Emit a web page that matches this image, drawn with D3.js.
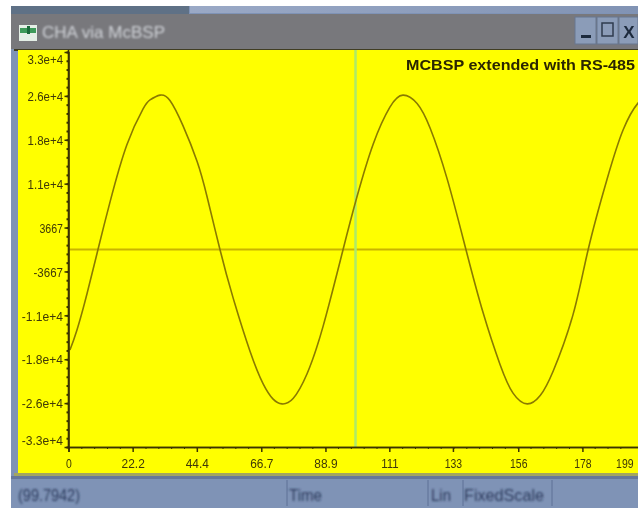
<html>
<head>
<style>
  body { margin: 0; background: #fff; }
  svg { display: block; }
  text { font-family: "Liberation Sans", Arial, sans-serif; }
</style>
</head>

<body>
<svg width="638" height="510" id="scope"></svg>
<script src="https://cdn.jsdelivr.net/npm/d3@7"></script>
<script>
// values
var times = [0.5, 2.9, 6.4, 10.2, 14.4, 20.2, 25.8, 28.2, 31.7, 35.1, 39.6, 44.5, 47.9, 52.4, 56.9, 62.8, 67.3, 70.8, 73.9, 77.7, 82.5, 88.1, 95.0, 99.8, 105.4, 111.2, 115.7, 120.6, 125.1, 131.0, 137.5, 143.4, 149.3, 153.8, 158.7, 163.2, 167.7, 174.6, 179.8, 186.3, 191.9, 197.1, 201];
var amplitude = [-16800, -13500, -7400, 0, 8000, 17500, 23500, 25000, 25800, 24900, 20700, 14700, 8900, 0, -8000, -17000, -22400, -25000, -25800, -24900, -20800, -12800, 0, 8800, 17600, 23800, 25800, 24400, 20300, 11800, 0, -10500, -19200, -24000, -25800, -24400, -20300, -10800, 0, 11700, 20000, 24500, 25800];
var xTicks = [0, 22.2, 44.4, 66.7, 88.9, 111, 133, 155.6, 177.8, 199.8];
var xLabels = ["0", "22.2", "44.4", "66.7", "88.9", "111", "133", "156", "178", "199"];
var yTicks = [33000, 25667, 18333, 11000, 3667, -3667, -11000, -18333, -25667, -33000];
var yLabels = ["3.3e+4", "2.6e+4", "1.8e+4", "1.1e+4", "3667", "-3667", "-1.1e+4", "-1.8e+4", "-2.6e+4", "-3.3e+4"];
var cursorTime = 99.3;
var statusCells = ["(99.7942)", "Time", "Lin", "FixedScale"];
var titleText = "CHA via McBSP";
var noteText = "MCBSP extended with RS-485";

var svg = d3.select("#scope");

var defs = svg.append("defs");
defs.append("filter").attr("id", "soft")
  .attr("x", "-5%").attr("y", "-5%").attr("width", "110%").attr("height", "110%")
  .append("feGaussianBlur").attr("stdDeviation", 0.6);
defs.append("filter").attr("id", "softer")
  .attr("x", "-5%").attr("y", "-20%").attr("width", "110%").attr("height", "140%")
  .append("feGaussianBlur").attr("stdDeviation", 0.85);
var topGrad = defs.append("linearGradient").attr("id", "topstrip");
topGrad.append("stop").attr("offset", "0").attr("stop-color", "#9aa9c6");
topGrad.append("stop").attr("offset", "1").attr("stop-color", "#8193b4");

var x = d3.scaleLinear().domain([0, 199.8]).range([68.5, 646]);
var y = d3.scaleLinear().domain([-33000, 33000]).range([447, 52]);

// window frame
var chrome = svg.append("g").attr("filter", "url(#soft)");
chrome.append("rect").attr("x", 11).attr("y", 6).attr("width", 627).attr("height", 502).attr("fill", "#7f93b6");
chrome.append("rect").attr("x", 11).attr("y", 6).attr("width", 178).attr("height", 8).attr("fill", "#5f7186");
chrome.append("rect").attr("x", 190).attr("y", 6).attr("width", 448).attr("height", 7).attr("fill", "url(#topstrip)");
chrome.append("rect").attr("x", 11).attr("y", 14).attr("width", 627).attr("height", 35).attr("fill", "#78787c");
chrome.append("rect").attr("x", 14).attr("y", 49).attr("width", 624).attr("height", 2).attr("fill", "#3f3d20");
chrome.append("rect").attr("x", 18).attr("y", 50).attr("width", 620).attr("height", 423).attr("fill", "#ffff00");
chrome.append("rect").attr("x", 14).attr("y", 473).attr("width", 624).attr("height", 3).attr("fill", "#a3a560");
chrome.append("rect").attr("x", 11).attr("y", 476).attr("width", 627).attr("height", 3).attr("fill", "#66779a");

// title bar icon and buttons
chrome.append("rect").attr("x", 19).attr("y", 25).attr("width", 18).attr("height", 16).attr("fill", "#e4efe6");
chrome.append("rect").attr("x", 20).attr("y", 28).attr("width", 16).attr("height", 5).attr("fill", "#3e9a5a");
chrome.append("rect").attr("x", 27).attr("y", 26).attr("width", 3).attr("height", 8).attr("fill", "#1f6b3a");

chrome.selectAll(".btn").data([575, 597, 619]).enter().append("rect")
  .attr("class", "btn")
  .attr("x", function(d) { return d; })
  .attr("y", 17)
  .attr("width", function(d, i) { return i == 2 ? 19 : 21; })
  .attr("height", 27)
  .attr("fill", "#8b9cb8")
  .attr("stroke", "#67768f");
chrome.append("rect").attr("x", 581).attr("y", 35).attr("width", 10).attr("height", 3).attr("fill", "#1d2a3c");
chrome.append("rect").attr("x", 602).attr("y", 23).attr("width", 11).attr("height", 13)
  .attr("fill", "none").attr("stroke", "#2f3b4d").attr("stroke-width", 1.5);
chrome.append("text").attr("x", 629).attr("y", 38).attr("text-anchor", "middle")
  .attr("font-size", 17).attr("font-weight", "bold").attr("fill", "#1d2a3c").text("X");

// status bar dividers
chrome.selectAll(".cell").data([287, 428, 463, 552]).enter().append("line")
  .attr("class", "cell")
  .attr("x1", function(d) { return d; })
  .attr("x2", function(d) { return d; })
  .attr("y1", 480).attr("y2", 506)
  .attr("stroke", "#5f7096");

svg.append("text").attr("x", 42).attr("y", 38)
  .attr("font-size", 16.5).attr("fill", "#d0d3d8").attr("filter", "url(#softer)")
  .attr("textLength", 123).attr("lengthAdjust", "spacingAndGlyphs").text(titleText);

// plot
var plot = svg.append("g").attr("filter", "url(#soft)");

plot.append("line")
  .attr("x1", x(0)).attr("x2", 638)
  .attr("y1", y(0)).attr("y2", y(0))
  .attr("stroke", "#c9b400").attr("stroke-width", 2);

plot.append("line")
  .attr("x1", x(cursorTime)).attr("x2", x(cursorTime))
  .attr("y1", 50).attr("y2", 447)
  .attr("stroke", "#aeea68").attr("stroke-width", 2.5);

var line = d3.line()
  .x(function(d, i) { return x(times[i]); })
  .y(function(d) { return y(d); })
  .curve(d3.curveNatural);

plot.append("path")
  .datum(amplitude)
  .attr("d", line)
  .attr("fill", "none")
  .attr("stroke", "#8a7a00")
  .attr("stroke-width", 1.6);

// minor ticks
var yMinor = d3.range(0, 46).map(function(i) { return -33000 + i * 1466.67; });
var xMinor = d3.range(0, 44).map(function(i) { return i * 4.44; });

var axisColor = "#3a3300";

function paint(g, size) {
  g.selectAll(".domain").attr("stroke", axisColor).attr("stroke-width", 1.6);
  g.selectAll(".tick line").attr("stroke", axisColor).attr("stroke-width", size);
  g.selectAll(".tick text").attr("fill", "#3f3908").attr("font-size", 13.5)
    .attr("font-family", '"Liberation Sans", Arial, sans-serif')
    .attr("lengthAdjust", "spacingAndGlyphs");
}

var yMinorAxis = plot.append("g").attr("transform", "translate(68.5,0)")
  .call(d3.axisLeft(y).tickValues(yMinor).tickSize(2).tickFormat(""));
paint(yMinorAxis, 2);

var yAxis = plot.append("g").attr("transform", "translate(68.5,0)")
  .call(d3.axisLeft(y).tickValues(yTicks).tickSize(4).tickPadding(1.5)
    .tickFormat(function(d, i) { return yLabels[i]; }));
paint(yAxis, 1.5);
yAxis.select(".domain").attr("d", "M0,50V447");
// end labels are pushed inside the plot like the original does
yAxis.selectAll(".tick text").attr("y", function(d) {
  var py = y(d);
  return Math.max(59, Math.min(440, py)) - py;
}).attr("dy", "0.35em").attr("textLength", function(d, i) { return yLabels[i].length * 5.9; });

var xMinorAxis = plot.append("g").attr("transform", "translate(0,447)")
  .call(d3.axisBottom(x).tickValues(xMinor).tickSize(2).tickFormat(""));
paint(xMinorAxis, 1);

var xAxis = plot.append("g").attr("transform", "translate(0,447)")
  .call(d3.axisBottom(x).tickValues(xTicks).tickSize(5).tickPadding(6)
    .tickFormat(function(d, i) { return xLabels[i]; }));
paint(xAxis, 1.5);
xAxis.selectAll(".tick text").attr("textLength", function(d, i) { return xLabels[i].length * 5.8; });
// last label would run off the window
xAxis.selectAll(".tick text").filter(function(d, i) { return i == xLabels.length - 1; })
  .attr("text-anchor", "end").attr("x", 633 - x(199.8));

plot.append("text")
  .attr("x", 635).attr("y", 70)
  .attr("text-anchor", "end")
  .attr("font-size", 15.5).attr("font-weight", "bold").attr("fill", "#2a2500")
  .attr("textLength", 229).attr("lengthAdjust", "spacingAndGlyphs")
  .text(noteText);

// status bar text
var statusX = [18, 289, 431, 464];
var statusLen = [62, 33, 20, 80];
svg.append("g").attr("filter", "url(#softer)")
  .selectAll("text").data(statusCells).enter().append("text")
  .attr("x", function(d, i) { return statusX[i]; })
  .attr("y", 501)
  .attr("font-size", 16.5)
  .attr("fill", "#2c3a5c")
  .attr("textLength", function(d, i) { return statusLen[i]; })
  .attr("lengthAdjust", "spacingAndGlyphs")
  .text(function(d) { return d; });
</script>
</body>
</html>
